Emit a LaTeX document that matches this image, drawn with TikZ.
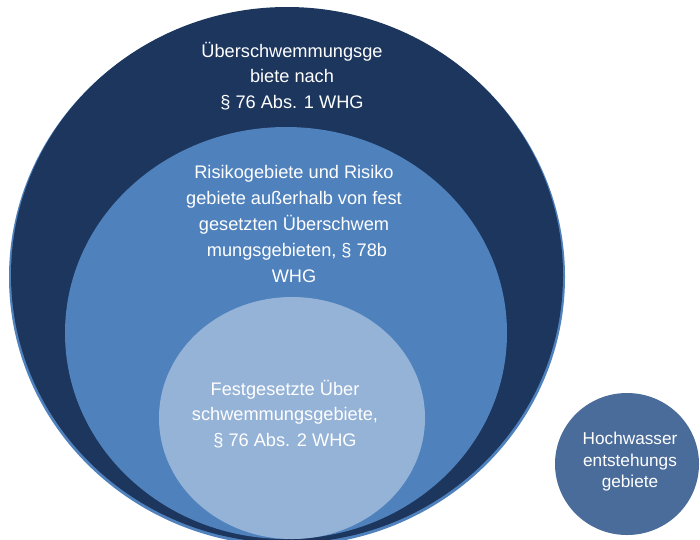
\documentclass[tikz,border=0pt]{standalone}
\usepackage{fontspec}
\setmainfont{Liberation Sans}
\usetikzlibrary{shapes.geometric}
\definecolor{navy}{RGB}{28,54,94}
\definecolor{midblue}{RGB}{79,129,189}
\definecolor{lightblue}{RGB}{149,179,215}
\definecolor{slateblue}{RGB}{74,108,155}
\tikzset{
  area/.style={ellipse, inner sep=0pt, draw=none},
  lbl/.style={text=white, align=center, inner sep=0pt, font=\fontsize{18.2}{25.8}\selectfont},
  smalllbl/.style={text=white, align=center, inner sep=0pt, font=\fontsize{17.2}{21.5}\selectfont}
}
\begin{document}
\begin{tikzpicture}[x=1pt,y=-1pt]
  \clip (0,0) rectangle (700,539);
  \fill[white] (0,0) rectangle (700,539);
  % outer rim behind dark ellipse
  \node[area, fill=midblue, minimum width=556pt, minimum height=538pt] (rim) at (287,277) {};
  \node[area, fill=navy, minimum width=552pt, minimum height=536pt] (outer) at (287,275) {};
  \node[area, fill=midblue, minimum width=442pt, minimum height=412pt] (middle) at (286,333) {};
  \node[area, fill=lightblue, minimum width=266pt, minimum height=242pt] (inner) at (292,418) {};
  \node[area, fill=slateblue, minimum width=144pt, minimum height=142pt] (hw) at (627,464) {};
  % labels
  \node[lbl] (tOuter) at (292,76) {Überschwemmungsge\\biete nach\\§ 76 Abs. 1 WHG};
  \node[lbl] (tMiddle) at (294,224) {Risikogebiete und Risiko\\gebiete außerhalb von fest\\gesetzten Überschwem\\\hspace*{6pt}mungsgebieten, § 78b\\WHG};
  \node[lbl] (tInner) at (285,414) {Festgesetzte Über\\schwemmungsgebiete,\\§ 76 Abs. 2 WHG};
  \node[smalllbl] (tHw) at (630,462) {Hochwasser\\entstehungs\\gebiete};
\end{tikzpicture}
\end{document}
